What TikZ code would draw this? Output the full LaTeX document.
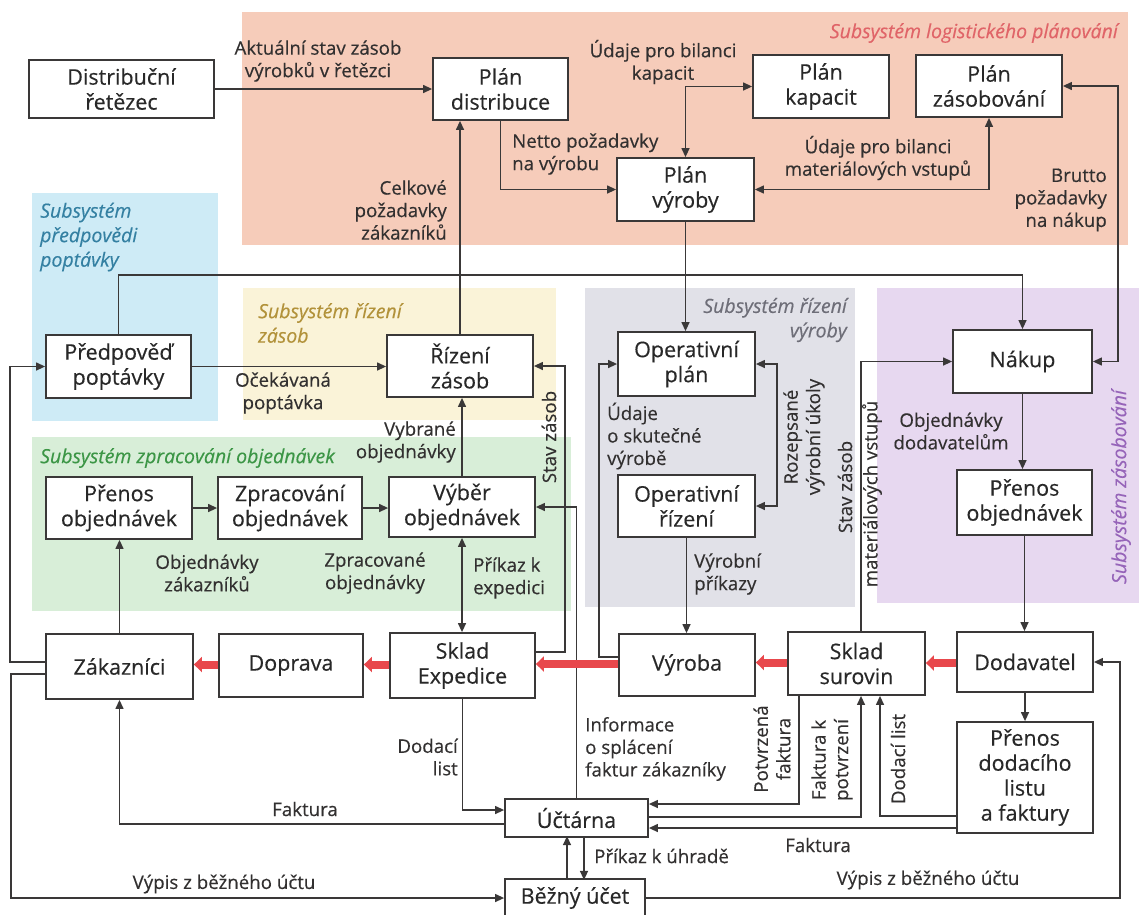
\documentclass[tikz,border=0pt]{standalone}
\usepackage{fontspec}
\setmainfont{Open Sans}[FakeBold=0.35]
\usetikzlibrary{arrows.meta,calc}

% zone fills
\definecolor{zplan}{RGB}{246,204,186}
\definecolor{zfore}{RGB}{206,235,246}
\definecolor{zstock}{RGB}{250,243,216}
\definecolor{zorder}{RGB}{216,238,216}
\definecolor{zprod}{RGB}{225,225,232}
\definecolor{zsupp}{RGB}{231,216,240}
% zone titles
\definecolor{tplan}{RGB}{224,100,104}
\definecolor{tfore}{RGB}{52,128,162}
\definecolor{tstock}{RGB}{178,146,58}
\definecolor{torder}{RGB}{60,150,70}
\definecolor{tprod}{RGB}{110,110,120}
\definecolor{tsupp}{RGB}{150,100,185}
% strokes and text
\definecolor{linec}{RGB}{58,56,56}
\definecolor{boxtext}{RGB}{40,40,40}
\definecolor{lbltext}{RGB}{50,48,48}
\definecolor{flowred}{RGB}{232,72,76}

\begin{document}
\begin{tikzpicture}[x=1pt,y=-1pt,
  box/.style={draw=linec, line width=1.8pt, fill=white, text=boxtext,
    font=\fontsize{21.5}{25}\selectfont, align=center, inner sep=0pt},
  lbl/.style={text=lbltext, font=\fontsize{18.7}{22.5}\selectfont, inner sep=0pt},
  conn/.style={draw=linec, line width=1.3pt},
  arr/.style={conn, -{Triangle[length=9pt,width=8pt]}},
  arrb/.style={conn, {Triangle[length=9pt,width=8pt]}-{Triangle[length=9pt,width=8pt]}},
  flow/.style={draw=flowred, line width=8pt, -{Triangle[length=8pt,width=15pt]}},
  zone/.style={font=\fontsize{19.5}{24.5}\selectfont\itshape, inner sep=0pt},
]
\useasboundingbox (0,0) rectangle (1139,914);
\fill[white] (0,0) rectangle (1139,914);

% subsystem areas
\fill[zplan]  (242,12)  rectangle (1128,245);
\fill[zfore]  (32,193)  rectangle (218,421);
\fill[zstock] (243,288) rectangle (556,420);
\fill[zorder] (32,437)  rectangle (571,611);
\fill[zprod]  (585,288) rectangle (855,607);
\fill[zsupp]  (877,288) rectangle (1139,603);

% subsystem titles
\node[zone, text=tplan, anchor=east] (tlog) at (1118,33) {Subsystém logistického plánování};
\node[zone, text=tfore, anchor=west, align=left] (tfor) at (40,237) {Subsystém\\předpovědi\\poptávky};
\node[zone, text=tstock, anchor=west, align=left] (tsto) at (258,323) {Subsystém řízení\\zásob};
\node[zone, text=torder, anchor=west] (tord) at (40,458) {Subsystém zpracování objednávek};
\node[zone, text=tprod, anchor=east, align=right] (tpro) at (847,320) {Subsystém řízení\\výroby};
\node[zone, text=tsupp, rotate=90] (tsup) at (1121,487) {Subsystém zásobování};

% boxes
\node[box, minimum width=185pt, minimum height=58pt] (dist)   at (121.5,89)  {Distribuční\\řetězec};
\node[box, minimum width=135pt, minimum height=62pt] (pdist)  at (500.5,89)  {Plán\\distribuce};
\node[box, minimum width=136pt, minimum height=63pt] (pkap)   at (821,86.5)  {Plán\\kapacit};
\node[box, minimum width=146pt, minimum height=62pt] (pzas)   at (989,86)    {Plán\\zásobování};
\node[box, minimum width=137pt, minimum height=63pt] (pvyr)   at (685.5,189.5) {Plán\\výroby};
\node[box, minimum width=145pt, minimum height=63pt] (pred)   at (118.5,366.5) {Předpověď\\poptávky};
\node[box, minimum width=146pt, minimum height=62pt] (rizz)   at (460,366)   {Řízení\\zásob};
\node[box, minimum width=137pt, minimum height=64pt] (oplan)  at (686.5,364) {Operativní\\plán};
\node[box, minimum width=139pt, minimum height=63pt] (nakup)  at (1022.5,361.5) {Nákup};
\node[box, minimum width=146pt, minimum height=62pt] (preL)   at (119,508)   {Přenos\\objednávek};
\node[box, minimum width=144pt, minimum height=62pt] (zprac)  at (290,508)   {Zpracování\\objednávek};
\node[box, minimum width=146pt, minimum height=60pt] (vyber)  at (462,507)   {Výběr\\objednávek};
\node[box, minimum width=137pt, minimum height=62pt] (oriz)   at (686.5,506) {Operativní\\řízení};
\node[box, minimum width=135pt, minimum height=65pt] (preR)   at (1024.5,502.5) {Přenos\\objednávek};
\node[box, minimum width=147pt, minimum height=65pt] (zak)    at (119.5,666.5) {Zákazníci};
\node[box, minimum width=144pt, minimum height=63pt] (dopr)   at (291,665.5) {Doprava};
\node[box, minimum width=145pt, minimum height=65pt] (sklexp) at (462.5,665.5) {Sklad\\Expedice};
\node[box, minimum width=136pt, minimum height=62pt] (vyroba) at (687,665)   {Výroba};
\node[box, minimum width=137pt, minimum height=63pt] (sklsur) at (856.5,663.5) {Sklad\\surovin};
\node[box, minimum width=136pt, minimum height=60pt] (dodav)  at (1025,662)  {Dodavatel};
\node[box, minimum width=136pt, minimum height=111pt] (pdl)   at (1025,777.5) {Přenos\\dodacího\\listu\\a faktury};
\node[box, minimum width=143pt, minimum height=38pt] (uct)    at (576.5,818) {Účtárna};
\node[box, minimum width=140pt, minimum height=38pt] (bezny)  at (575,898)   {Běžný účet};

% information flows
\draw[arr]  (dist.east) -- (pdist.west);
\draw[arr]  (pdist.south) |- (pvyr.west);
\draw[arrb] (pvyr.north) |- (pkap.west);
\draw[arrb] (pzas.south) |- (pvyr.east);
\draw[arrb] (pzas.east) -- ++(55,0) |- (nakup.east);
\draw[arr]  (rizz.north) -- (rizz.north |- pdist.south);
\draw[arr]  (pred.north) -- ++(0,-59) -| (nakup.north);
\draw[arr]  (pred.east) -- (pred.east -| rizz.west);
\draw[arr]  (pvyr.south) -- (pvyr.south |- oplan.north);
\draw[arrb] (oplan.east) -- ++(21,0) |- (oriz.east);
\draw[arr]  (oriz.south) -- (oriz.south |- vyroba.north);
\draw[arr]  ($(vyroba.west)+(0,-8)$) -- ++(-19,0) |- (oplan.west);
\draw[arr]  ($(sklexp.east)+(0,-13.5)$) -- ++(29,0) |- (rizz.east);
\draw[arr]  (uct.north) |- (vyber.east);
\draw[arrb] (vyber.south) -- (vyber.south |- sklexp.north);
\draw[arr]  (vyber.north) -- (vyber.north |- rizz.south);
\draw[arr]  (preL.east) -- (preL.east -| zprac.west);
\draw[arr]  (zprac.east) -- (zprac.east -| vyber.west);
\draw[arr]  (zak.north) -- (zak.north |- preL.south);
\draw[arr]  ($(zak.west)+(0,-4.5)$) -- ++(-35,0) |- (pred.west);
\draw[arr]  ($(zak.west)+(0,7.5)$) -- ++(-34,0) |- (bezny.west);
\draw[arr]  ($(uct.west)+(0,6)$) -| (zak.south);
\draw[arr]  (sklexp.south) |- ($(uct.west)+(0,-8)$);
\draw[arr]  (nakup.south) -- (nakup.south |- preR.north);
\draw[arr]  (preR.south) -- (preR.south |- dodav.north);
\draw[arr]  (dodav.south) -- (pdl.north);
\draw[arr]  ($(sklsur.north)+(4.5,0)$) |- (nakup.west);
\draw[arr]  ($(pdl.west)+(0,38.5)$) -| ($(sklsur.south)+(23.5,0)$);
\draw[arr]  ($(uct.east)+(0,-1)$) -| ($(sklsur.south)+(4.5,0)$);
\draw[arr]  ($(sklsur.south)+(-57.5,0)$) |- ($(uct.east)+(0,-14)$);
\draw[arr]  ($(pdl.west)+(0,50.5)$) -- ($(uct.east)+(0,10)$);
\draw[arr]  (bezny.east) -| ($(dodav.east)+(26,0)$) -- (dodav.east);
\draw[arr]  ($(bezny.north)+(-8,0)$) -- ++(0,-42);
\draw[arr]  ($(uct.south)+(7.5,0)$) -- ++(0,42);

% material flows
\draw[flow] ($(dodav.west)+(0,1)$) -- ($(dodav.west -| sklsur.east)+(0,1)$);
\draw[flow] ($(sklsur.west)+(0,-1)$) -- ($(sklsur.west -| vyroba.east)+(0,-1)$);
\draw[flow] ($(vyroba.west)+(0,-1)$) -- ($(vyroba.west -| sklexp.east)+(0,-1)$);
\draw[flow] ($(sklexp.west)+(0,-1)$) -- ($(sklexp.west -| dopr.east)+(0,-1)$);
\draw[flow] ($(dopr.west)+(0,-1)$) -- ($(dopr.west -| zak.east)+(0,-1)$);

% flow labels
\node[lbl, align=center] (l1) at (318,61) {Aktuální stav zásob\\výrobků v řetězci};
\node[lbl, align=left, anchor=west] (l2) at (512,154) {Netto požadavky\\na výrobu};
\node[lbl, align=center] (l3) at (663,62) {Údaje pro bilanci\\kapacit};
\node[lbl, align=center] (l4) at (878,158) {Údaje pro bilanci\\materiálových vstupů};
\node[lbl, align=right, anchor=east] (l5) at (1107,200) {Brutto\\požadavky\\na nákup};
\node[lbl, align=right, anchor=east] (l6) at (447,210) {Celkové\\požadavky\\zákazníků};
\node[lbl, align=center] (l7) at (283,393) {Očekávaná\\poptávka};
\node[lbl, align=right, anchor=east] (l8) at (456,442) {Vybrané\\objednávky};
\node[lbl, rotate=90] (l9) at (549,437) {Stav zásob};
\node[lbl, align=left, anchor=west] (l10) at (607,436) {Údaje\\o skutečné\\výrobě};
\node[lbl, align=center, rotate=90] (l11) at (804,437) {Rozepsané\\výrobní úkoly};
\node[lbl, rotate=90] (l12a) at (845,487) {Stav zásob};
\node[lbl, rotate=90] (l12b) at (872,494) {materiálových vstupů};
\node[lbl, align=center] (l13) at (951,431) {Objednávky\\dodavatelům};
\node[lbl, align=center] (l14) at (207,573) {Objednávky\\zákazníků};
\node[lbl, align=center] (l15) at (375,573) {Zpracované\\objednávky};
\node[lbl, align=left, anchor=west] (l16) at (473,578) {Příkaz k\\expedici};
\node[lbl, align=left, anchor=west] (l17) at (694,574) {Výrobní\\příkazy};
\node[lbl, align=right, anchor=east] (l18) at (458,757) {Dodací\\list};
\node[lbl, align=left, anchor=west] (l19) at (585,749) {Informace\\o splácení\\faktur zákazníky};
\node[lbl, align=center, rotate=90] (l20) at (772,749) {Potvrzená\\faktura};
\node[lbl, align=center, rotate=90] (l21) at (832,760) {Faktura k\\potvrzení};
\node[lbl, rotate=90] (l22) at (898,759) {Dodací list};
\node[lbl] (l23) at (305,809) {Faktura};
\node[lbl] (l24) at (818,845) {Faktura};
\node[lbl, anchor=west] (l25) at (594,856) {Příkaz k úhradě};
\node[lbl] (l26) at (224,884) {Výpis z běžného účtu};
\node[lbl] (l27) at (928,880) {Výpis z běžného účtu};
\end{tikzpicture}
\end{document}
